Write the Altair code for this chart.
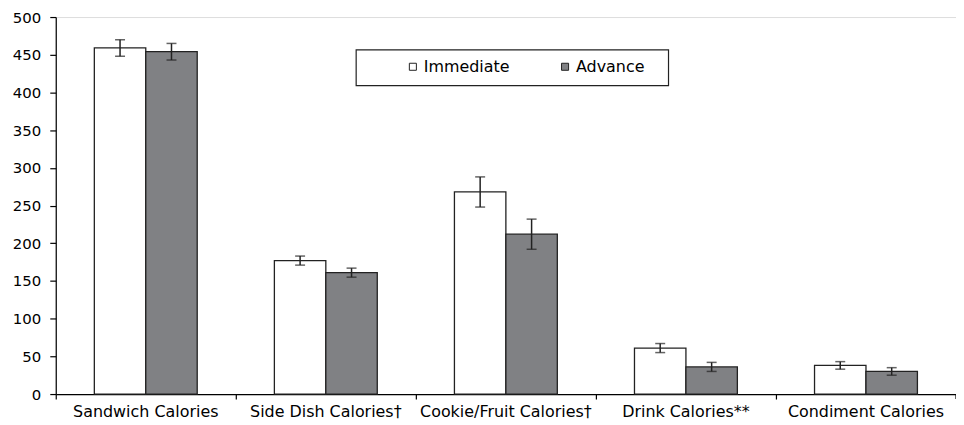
import altair as alt
import pandas as pd

categories = ["Sandwich Calories", "Side Dish Calories\u2020", "Cookie/Fruit Calories\u2020",
              "Drink Calories**", "Condiment Calories"]
groups = ["Immediate", "Advance"]
immediate = [459, 177, 268, 61, 38]
advance = [454, 161, 212, 36, 30]
immediate_err = [11, 6, 20, 6, 5]
advance_err = [11, 6, 20, 6, 5]
y_ticks = list(range(0, 501, 50))

rows = []
for i, c in enumerate(categories):
    rows.append({"cat": c, "grp": "Immediate", "val": immediate[i],
                 "lo": immediate[i] - immediate_err[i], "hi": immediate[i] + immediate_err[i]})
    rows.append({"cat": c, "grp": "Advance", "val": advance[i],
                 "lo": advance[i] - advance_err[i], "hi": advance[i] + advance_err[i]})
df = pd.DataFrame(rows)

FONT = "DejaVu Sans"
W, H = 905, 379

x_axis = alt.Axis(bandPosition=0, labelAngle=0,
                  labelAlign="center", labelBaseline="top",
                  labelFont=FONT, labelFontSize=16, labelColor="black",
                  labelPadding=5, labelOverlap=False, labelFlush=False,
                  labelBound=False,
                  tickSize=5, tickColor="black", domainColor="black",
                  domainWidth=1.2, tickWidth=1.2, labelLimit=300)
y_axis = alt.Axis(values=y_ticks, grid=False, labelFont=FONT,
                  labelFontSize=15,
                  labelColor="black", tickSize=6, labelPadding=9,
                  labelOverlap=False, labelFlush=False,
                  tickColor="black", domainColor="black",
                  domainWidth=1.2, tickWidth=1.2)
x_scale = alt.Scale(paddingInner=0, paddingOuter=0)
y_scale = alt.Scale(domain=[0, 500], nice=False)

xenc = alt.X("cat:N", sort=categories, title=None, scale=x_scale, axis=x_axis)
xoff = alt.XOffset("grp:N", sort=groups,
                   scale=alt.Scale(domain=groups, paddingInner=0, paddingOuter=0.75))


def yq(field):
    return alt.Y(field, title=None, scale=y_scale, axis=y_axis)


base = alt.Chart(df)

bars = base.mark_bar(stroke="#222222", strokeWidth=1.3).encode(
    x=xenc, xOffset=xoff, y=yq("val:Q"),
    fill=alt.Fill("grp:N", sort=groups,
                  scale=alt.Scale(domain=groups, range=["#ffffff", "#808184"]),
                  legend=alt.Legend(title=None, orient="none", direction="horizontal",
                                    legendX=351, legendY=42, symbolType="square",
                                    symbolSize=50, symbolStrokeColor="#222222",
                                    symbolStrokeWidth=1, labelFont=FONT,
                                    labelFontSize=16, labelColor="black",
                                    labelOffset=3, columnPadding=47, padding=0)),
)

err = base.mark_rule(color="#222222", strokeWidth=1.5).encode(
    x=xenc, xOffset=xoff, y=yq("lo:Q"), y2="hi:Q")
cap_lo = base.mark_tick(color="#222222", thickness=1.5, size=10, orient="horizontal").encode(
    x=xenc, xOffset=xoff, y=yq("lo:Q"))
cap_hi = base.mark_tick(color="#222222", thickness=1.5, size=10, orient="horizontal").encode(
    x=xenc, xOffset=xoff, y=yq("hi:Q"))

one = alt.Chart(pd.DataFrame({"k": [0]}))
legend_box = one.mark_rect(fill="white", stroke="#222222", strokeWidth=1.2).encode(
    x=alt.value(302), x2=alt.value(616), y=alt.value(33), y2=alt.value(69))
end_tick = one.mark_rule(color="black", strokeWidth=1.2).encode(
    x=alt.value(W), y=alt.value(H), y2=alt.value(H + 5))

chart = alt.layer(legend_box, bars, err, cap_lo, cap_hi, end_tick).properties(
    width=W, height=H,
    padding={"left": 48, "top": 8, "right": 0, "bottom": 26},
    autosize="none",
).configure_view(strokeWidth=0).configure(background="white")

chart.save("out.html", embed_options={"renderer": "svg", "actions": False})
